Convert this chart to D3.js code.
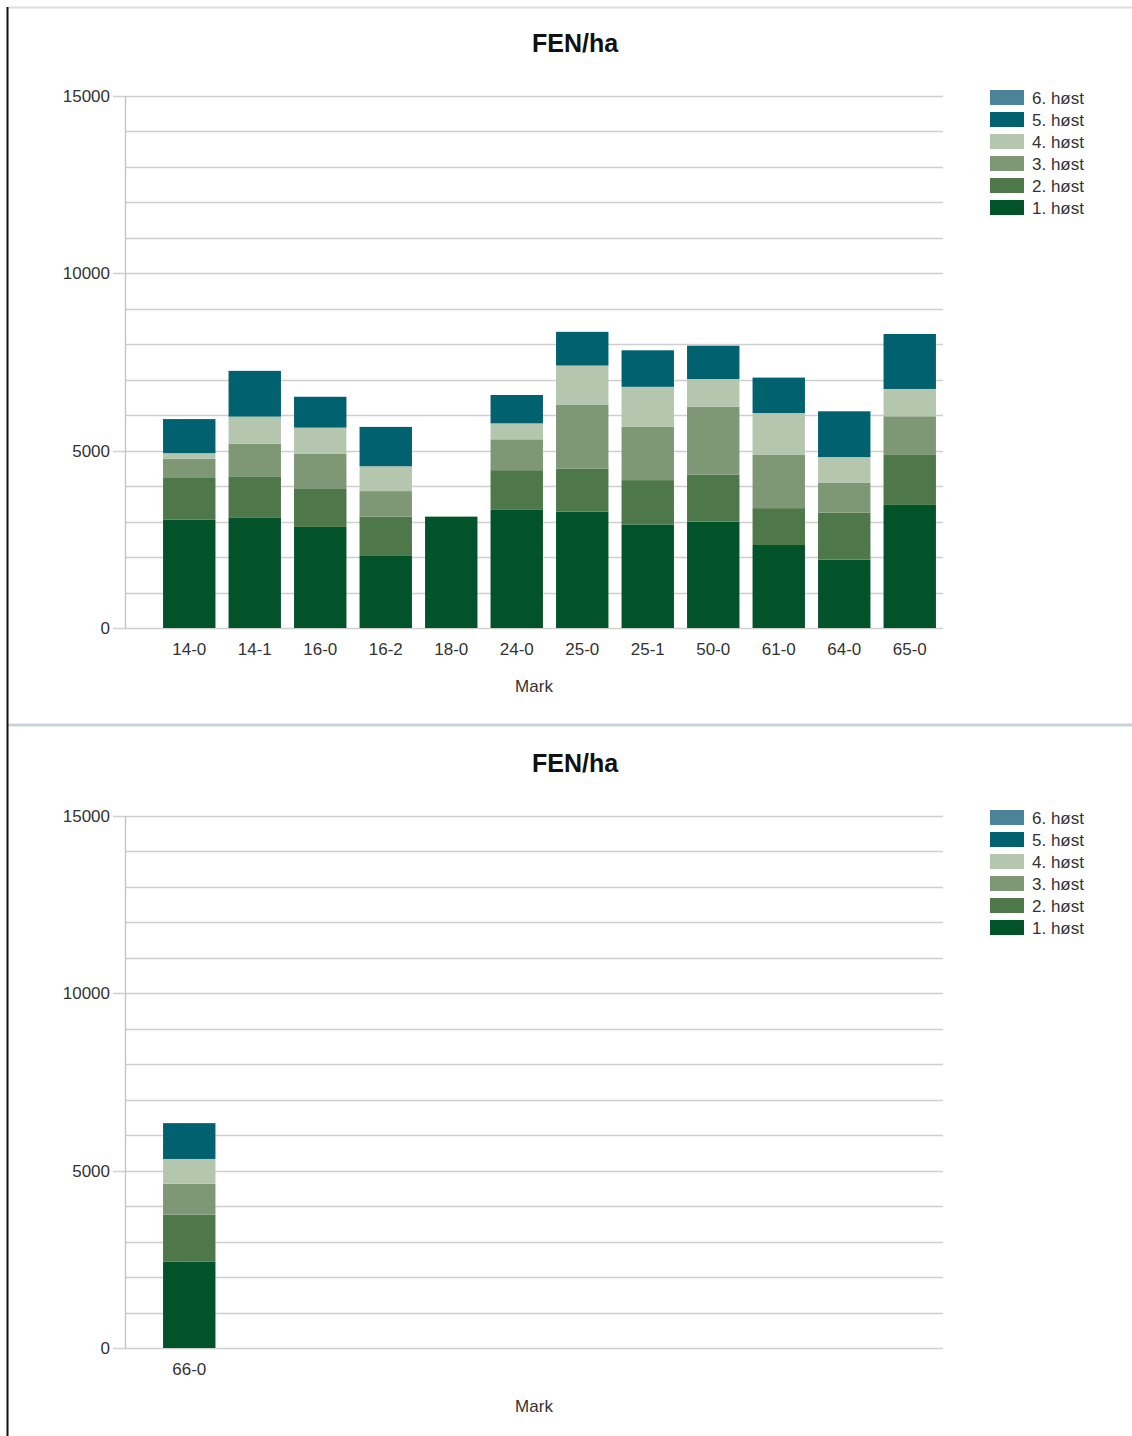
<!DOCTYPE html>
<html>
<head>
<meta charset="utf-8">
<script src="https://cdn.jsdelivr.net/npm/d3@7/dist/d3.min.js"></script>
<style>
  body { margin: 0; background: #fff; }
  svg { display: block; font-family: "Liberation Sans", Arial, sans-serif; }
</style>
</head>
<body>
<div id="chart"></div>
<script>
// data
var marks1 = ['14-0', '14-1', '16-0', '16-2', '18-0', '24-0', '25-0', '25-1', '50-0', '61-0', '64-0', '65-0'];
var hoest1 = [3060, 3120, 2850, 2050, 3140, 3330, 3280, 2920, 3000, 2340, 1930, 3470];
var hoest2 = [1190, 1140, 1070, 1090, 0, 1120, 1210, 1250, 1320, 1040, 1320, 1410];
var hoest3 = [520, 930, 1000, 720, 0, 870, 1800, 1500, 1920, 1500, 840, 1090];
var hoest4 = [160, 770, 730, 700, 0, 450, 1110, 1130, 780, 1180, 730, 770];
var hoest5 = [960, 1290, 870, 1110, 0, 800, 950, 1030, 940, 1000, 1290, 1550];
var hoest6 = [0, 0, 0, 0, 0, 0, 0, 0, 0, 0, 0, 0];

var marks2 = ['66-0'];
var hoest1b = [2440];
var hoest2b = [1320];
var hoest3b = [870];
var hoest4b = [700];
var hoest5b = [1010];
var hoest6b = [0];

var seriesNames = ['1. høst', '2. høst', '3. høst', '4. høst', '5. høst', '6. høst'];
var seriesColors = ['#03532a', '#4e774a', '#7e9876', '#b4c7ae', '#02616f', '#4b8496'];
var yTicks = [0, 5000, 10000, 15000];

var W = 1132, H = 1436;
var svg = d3.select('#chart').append('svg')
    .attr('width', W)
    .attr('height', H);

// frame lines
svg.append('line').attr('x1', 8).attr('x2', W).attr('y1', 7.5).attr('y2', 7.5)
    .attr('stroke', '#dcdce8').attr('stroke-width', 2);
svg.append('line').attr('x1', 8).attr('x2', W).attr('y1', 725).attr('y2', 725)
    .attr('stroke', '#c9d3db').attr('stroke-width', 3);
svg.append('line').attr('x1', 7.5).attr('x2', 7.5).attr('y1', 7).attr('y2', H)
    .attr('stroke', '#111').attr('stroke-width', 2);

function drawChart(top, marks, cols) {
  var left = 125, right = 943;
  var y0 = top + 628, y1 = top + 96;
  var step = 65.5;

  var g = svg.append('g');

  var y = d3.scaleLinear().domain([0, 15000]).range([y0, y1]);
  var x = d3.scaleBand()
      .domain(marks)
      .range([156.5, 156.5 + marks.length * step])
      .paddingInner(0.2)
      .paddingOuter(0.1);

  // grid
  g.append('g').selectAll('line')
      .data(d3.range(0, 15001, 1000))
      .enter().append('line')
        .attr('x1', function (d) { return d % 5000 === 0 ? left - 12 : left; })
        .attr('x2', right)
        .attr('y1', function (d) { return Math.round(y(d)) + 0.5; })
        .attr('y2', function (d) { return Math.round(y(d)) + 0.5; })
        .attr('stroke', '#cfcfcf')
        .attr('stroke-width', 1.4);

  g.append('line')
      .attr('x1', left + 0.5).attr('x2', left + 0.5)
      .attr('y1', y1).attr('y2', y0)
      .attr('stroke', '#c4c4c4').attr('stroke-width', 1.4);

  // y labels
  var yAxis = d3.axisLeft(y).tickValues(yTicks).tickFormat(d3.format('d')).tickSize(0).tickPadding(15);
  var ya = g.append('g').attr('transform', 'translate(' + left + ',0)').call(yAxis);
  ya.select('.domain').remove();
  ya.selectAll('text').attr('font-size', 17).attr('fill', '#333')
      .attr('font-family', '"Liberation Sans", Arial, sans-serif');

  // stacked bars
  var rows = marks.map(function (m, i) {
    var r = { mark: m };
    cols.forEach(function (c, k) { r['s' + k] = c[i]; });
    return r;
  });
  var stack = d3.stack().keys(cols.map(function (c, k) { return 's' + k; }));
  var layers = stack(rows);

  g.append('g').selectAll('g')
      .data(layers)
      .enter().append('g')
        .attr('fill', function (d, k) { return seriesColors[k]; })
      .selectAll('rect')
      .data(function (d) { return d.filter(function (p) { return p[1] > p[0]; }); })
      .enter().append('rect')
        .attr('x', function (d) { return x(d.data.mark); })
        .attr('width', x.bandwidth())
        .attr('y', function (d) { return y(d[1]); })
        .attr('height', function (d) { return y(d[0]) - y(d[1]); });

  // x labels
  var xAxis = d3.axisBottom(x).tickSize(0).tickPadding(15);
  var xa = g.append('g').attr('transform', 'translate(0,' + y0 + ')').call(xAxis);
  xa.select('.domain').remove();
  xa.selectAll('text').attr('font-size', 17).attr('fill', '#333')
      .attr('font-family', '"Liberation Sans", Arial, sans-serif');

  g.append('text')
      .attr('x', 534).attr('y', top + 692)
      .attr('text-anchor', 'middle')
      .attr('font-size', 17).attr('fill', '#333')
      .text('Mark');

  g.append('text')
      .attr('x', 575).attr('y', top + 52)
      .attr('text-anchor', 'middle')
      .attr('font-size', 25).attr('font-weight', 'bold').attr('fill', '#111')
      .text('FEN/ha');

  // legend, 6. høst on top
  var legend = g.append('g').selectAll('g')
      .data(d3.range(seriesNames.length).reverse())
      .enter().append('g')
        .attr('transform', function (d, i) { return 'translate(990,' + (top + 90 + i * 22) + ')'; });
  legend.append('rect')
      .attr('width', 34).attr('height', 15)
      .attr('fill', function (d) { return seriesColors[d]; });
  legend.append('text')
      .attr('x', 42).attr('y', 14)
      .attr('font-size', 17).attr('fill', '#333')
      .text(function (d) { return seriesNames[d]; });
}

drawChart(0, marks1, [hoest1, hoest2, hoest3, hoest4, hoest5, hoest6]);
drawChart(720, marks2, [hoest1b, hoest2b, hoest3b, hoest4b, hoest5b, hoest6b]);
</script>
</body>
</html>
